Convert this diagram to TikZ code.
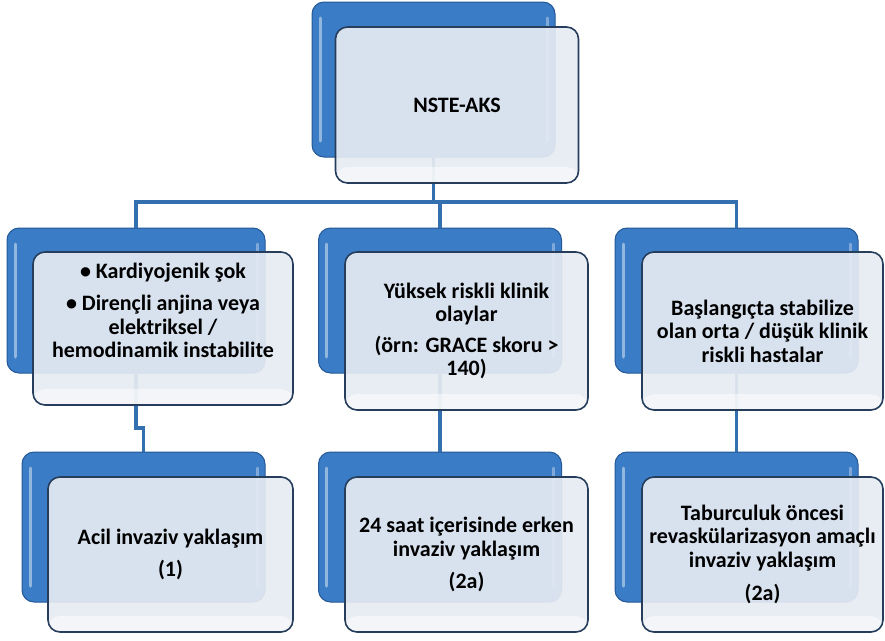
\documentclass[tikz,border=0pt]{standalone}
\usepackage{fontspec}
\setmainfont{Carlito}

\definecolor{backblue}{RGB}{58,124,198}
\definecolor{backedge}{RGB}{36,88,150}
\definecolor{frontfill}{RGB}{230,235,242}
\definecolor{frontedge}{RGB}{38,62,92}
\definecolor{linkblue}{RGB}{52,112,175}

\begin{document}
\begin{tikzpicture}[x=1pt, y=-1pt,
    back/.style={rounded corners=12pt, fill=backblue, draw=backedge, line width=1pt,
        minimum width=243pt, minimum height=148pt, inner sep=0pt,
        path picture={
            \draw[white, opacity=.45, line width=3pt, line cap=round]
                ([xshift=8pt,yshift=-16pt]path picture bounding box.north west) --
                ([xshift=8pt,yshift=16pt]path picture bounding box.south west);
            \draw[white, opacity=.35, line width=3pt, line cap=round]
                ([xshift=-8pt,yshift=-16pt]path picture bounding box.north east) --
                ([xshift=-8pt,yshift=16pt]path picture bounding box.south east);
        }},
    front/.style={rounded corners=12pt, fill=frontfill, fill opacity=.92, text opacity=1,
        draw=frontedge, line width=1.6pt, minimum width=243pt, minimum height=155pt,
        inner sep=0pt, align=center, font=\bfseries\fontsize{22}{23.5}\selectfont,
        path picture={
            \fill[white, opacity=.5]
                ([yshift=16pt]path picture bounding box.south west) rectangle
                (path picture bounding box.south east);
        }},
    link/.style={draw=linkblue, line width=3.2pt}]

    \useasboundingbox (0,0) rectangle (885,640);

    % back boxes
    \node[back, minimum height=155pt] (topback) at (433.5,79.5) {};
    \node[back, minimum width=258pt, minimum height=145pt] (kback) at (136,300.5) {};
    \node[back, minimum height=145pt] (yback) at (440,300.5) {};
    \node[back, minimum height=145pt] (bback) at (736.5,300.5) {};
    \node[back, minimum height=150pt] (aback) at (143.5,527) {};
    \node[back, minimum height=150pt] (sback) at (440,527) {};
    \node[back, minimum height=150pt] (tback) at (736.5,527) {};

    % connectors
    \coordinate (bus) at (440,202);
    \coordinate (jog) at (140,428);
    \draw[link] (topback.south) |- (bus) -| (kback.north);
    \draw[link] (bus) -- (yback.north);
    \draw[link] (bus) -| (bback.north);
    \draw[link] (kback.south) |- (jog) -| (aback.north);
    \draw[link] (yback.south) -- (sback.north);
    \draw[link] (bback.south) -- (tback.north);

    % front boxes
    \node[front, minimum height=156pt] (topfront) at (457,105) {NSTE-AKS};
    \node[front, minimum width=260pt, minimum height=153pt, text depth=36pt] (kfront) at (163,328.5)
        {\textbullet{} Kardiyojenik şok\\[9pt]
         \textbullet{} Dirençli anjina veya\\ elektriksel /\\ hemodinamik instabilite};
    \node[front, minimum height=158pt] (yfront) at (466.5,331)
        {Yüksek riskli klinik\\ olaylar\\[7pt] (örn: GRACE skoru >\\ 140)};
    \node[front, minimum width=241pt, minimum height=158pt] (bfront) at (762.5,331)
        {Başlangıçta stabilize\\ olan orta / düşük klinik\\ riskli hastalar};
    \node[front, minimum width=245pt] (afront) at (170.5,554.5)
        {Acil invaziv yaklaşım\\[9pt] (1)};
    \node[front] (sfront) at (466.5,554.5)
        {24 saat içerisinde erken\\ invaziv yaklaşım\\[9pt] (2a)};
    \node[front, minimum width=241pt] (tfront) at (762.5,554.5)
        {Taburculuk öncesi\\ revaskülarizasyon amaçlı\\ invaziv yaklaşım\\[10pt] (2a)};

\end{tikzpicture}
\end{document}
